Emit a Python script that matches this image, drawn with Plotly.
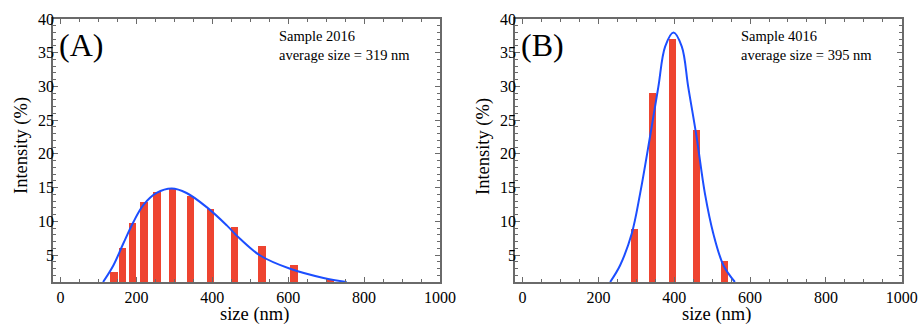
import plotly.graph_objects as go

# ---- data ----
a_size = [141, 163, 189, 220, 254, 295, 342, 395, 459, 531, 615, 712]
a_int = [2.5, 6.0, 9.8, 12.8, 14.4, 14.8, 13.8, 11.8, 9.1, 6.3, 3.5, 1.5]
a_fit_x = [112, 139, 165, 192, 218, 253, 293, 332, 385, 438, 473, 526, 605, 693, 754]
a_fit_y = [1.0, 3.45, 6.67, 9.9, 12.4, 14.2, 14.85, 14.2, 12.1, 9.4, 7.4, 4.93, 2.96, 1.6, 1.0]

b_size = [296, 342, 396, 458, 532]
b_int = [8.9, 29.05, 37.0, 23.5, 4.15]
b_fit_x = [231, 257, 288, 310, 336, 358, 376, 398, 420, 437, 459, 481, 503, 530, 560]
b_fit_y = [1.0, 3.45, 8.2, 14.1, 22.5, 29.9, 35.9, 38.0, 35.9, 29.9, 22.5, 14.1, 8.2, 3.45, 1.0]

x_ticks = [0, 200, 400, 600, 800, 1000]
y_ticks = [5, 10, 15, 20, 25, 30, 35, 40]

panel_labels = ["(A)", "(B)"]
sample_texts = ["Sample 2016<br>average size = 319 nm", "Sample 4016<br>average size = 395 nm"]

W, H = 919, 326
BAR = "#EE4430"
LINE = "#1C4EFF"
AXC = "#6a6a6a"
FONT = "Liberation Serif"

fig = go.Figure()
fig.add_trace(go.Bar(x=a_size, y=a_int, width=19, marker=dict(color=BAR, line_width=0),
                     xaxis="x", yaxis="y", showlegend=False))
fig.add_trace(go.Scatter(x=a_fit_x, y=a_fit_y, mode="lines", line=dict(color=LINE, width=2, shape="spline"),
                         xaxis="x", yaxis="y", showlegend=False, cliponaxis=True))
fig.add_trace(go.Bar(x=b_size, y=b_int, width=19, marker=dict(color=BAR, line_width=0),
                     xaxis="x2", yaxis="y2", showlegend=False))
fig.add_trace(go.Scatter(x=b_fit_x, y=b_fit_y, mode="lines", line=dict(color=LINE, width=2, shape="spline"),
                         xaxis="x2", yaxis="y2", showlegend=False, cliponaxis=True))

# pixel geometry
ytop, ybot = 19, 282
panels = [(53, 440), (515, 901.7)]

def px(x):
    return x / W

def py(y):
    return 1 - y / H

common_x = dict(range=[-20, 1000], tickvals=x_ticks, ticks="inside", ticklen=5, tickwidth=1,
                tickcolor=AXC, showline=True, linecolor=AXC, linewidth=1.5, mirror="allticks",
                showgrid=False, zeroline=False,
                minor=dict(ticks="inside", dtick=50, tick0=0, ticklen=3, tickcolor=AXC, tickwidth=1, showgrid=False),
                tickfont=dict(family=FONT, size=16, color="black"), automargin=False, fixedrange=True)
common_y = dict(range=[1, 40], tickvals=y_ticks, ticks="inside", ticklen=5, tickwidth=1,
                tickcolor=AXC, showline=True, linecolor=AXC, linewidth=1.5, mirror="allticks",
                showgrid=False, zeroline=False, ticklabelstandoff=-6,
                minor=dict(ticks="inside", dtick=1, tick0=0, ticklen=3, tickcolor=AXC, tickwidth=1, showgrid=False),
                tickfont=dict(family=FONT, size=16, color="black"), automargin=False, fixedrange=True)

fig.update_layout(
    width=W, height=H, margin=dict(l=0, r=0, t=0, b=0),
    paper_bgcolor="white", plot_bgcolor="white", bargap=0,
    xaxis=dict(domain=[px(panels[0][0]), px(panels[0][1])], anchor="y", **common_x),
    yaxis=dict(domain=[py(ybot), py(ytop)], anchor="x", **common_y),
    xaxis2=dict(domain=[px(panels[1][0]), px(panels[1][1])], anchor="y2", **common_x),
    yaxis2=dict(domain=[py(ybot), py(ytop)], anchor="x2", **common_y),
    showlegend=False,
)

annos = []
for i, (l, r) in enumerate(panels):
    annos.append(dict(text="size (nm)", x=px((l + r) / 2 + 8), y=py(314), xref="paper", yref="paper",
                      showarrow=False, xanchor="center", yanchor="middle",
                      font=dict(family=FONT, size=18.5, color="black")))
    annos.append(dict(text="Intensity (%)", x=px(l - 32), y=py(146), xref="paper", yref="paper",
                      showarrow=False, xanchor="center", yanchor="middle", textangle=-90,
                      font=dict(family=FONT, size=18.5, color="black")))
    annos.append(dict(text=panel_labels[i], x=px(l + 4), y=py(45), xref="paper", yref="paper",
                      showarrow=False, xanchor="left", yanchor="middle",
                      font=dict(family=FONT, size=32, color="black")))
    annos.append(dict(text=sample_texts[i], x=px(l + 224), y=py(46), xref="paper", yref="paper",
                      showarrow=False, xanchor="left", yanchor="middle", align="left",
                      font=dict(family=FONT, size=14.5, color="black")))
fig.update_layout(annotations=annos)

fig.write_html("out.html", config={"displayModeBar": False},
               post_script="document.body.style.margin='0';")
